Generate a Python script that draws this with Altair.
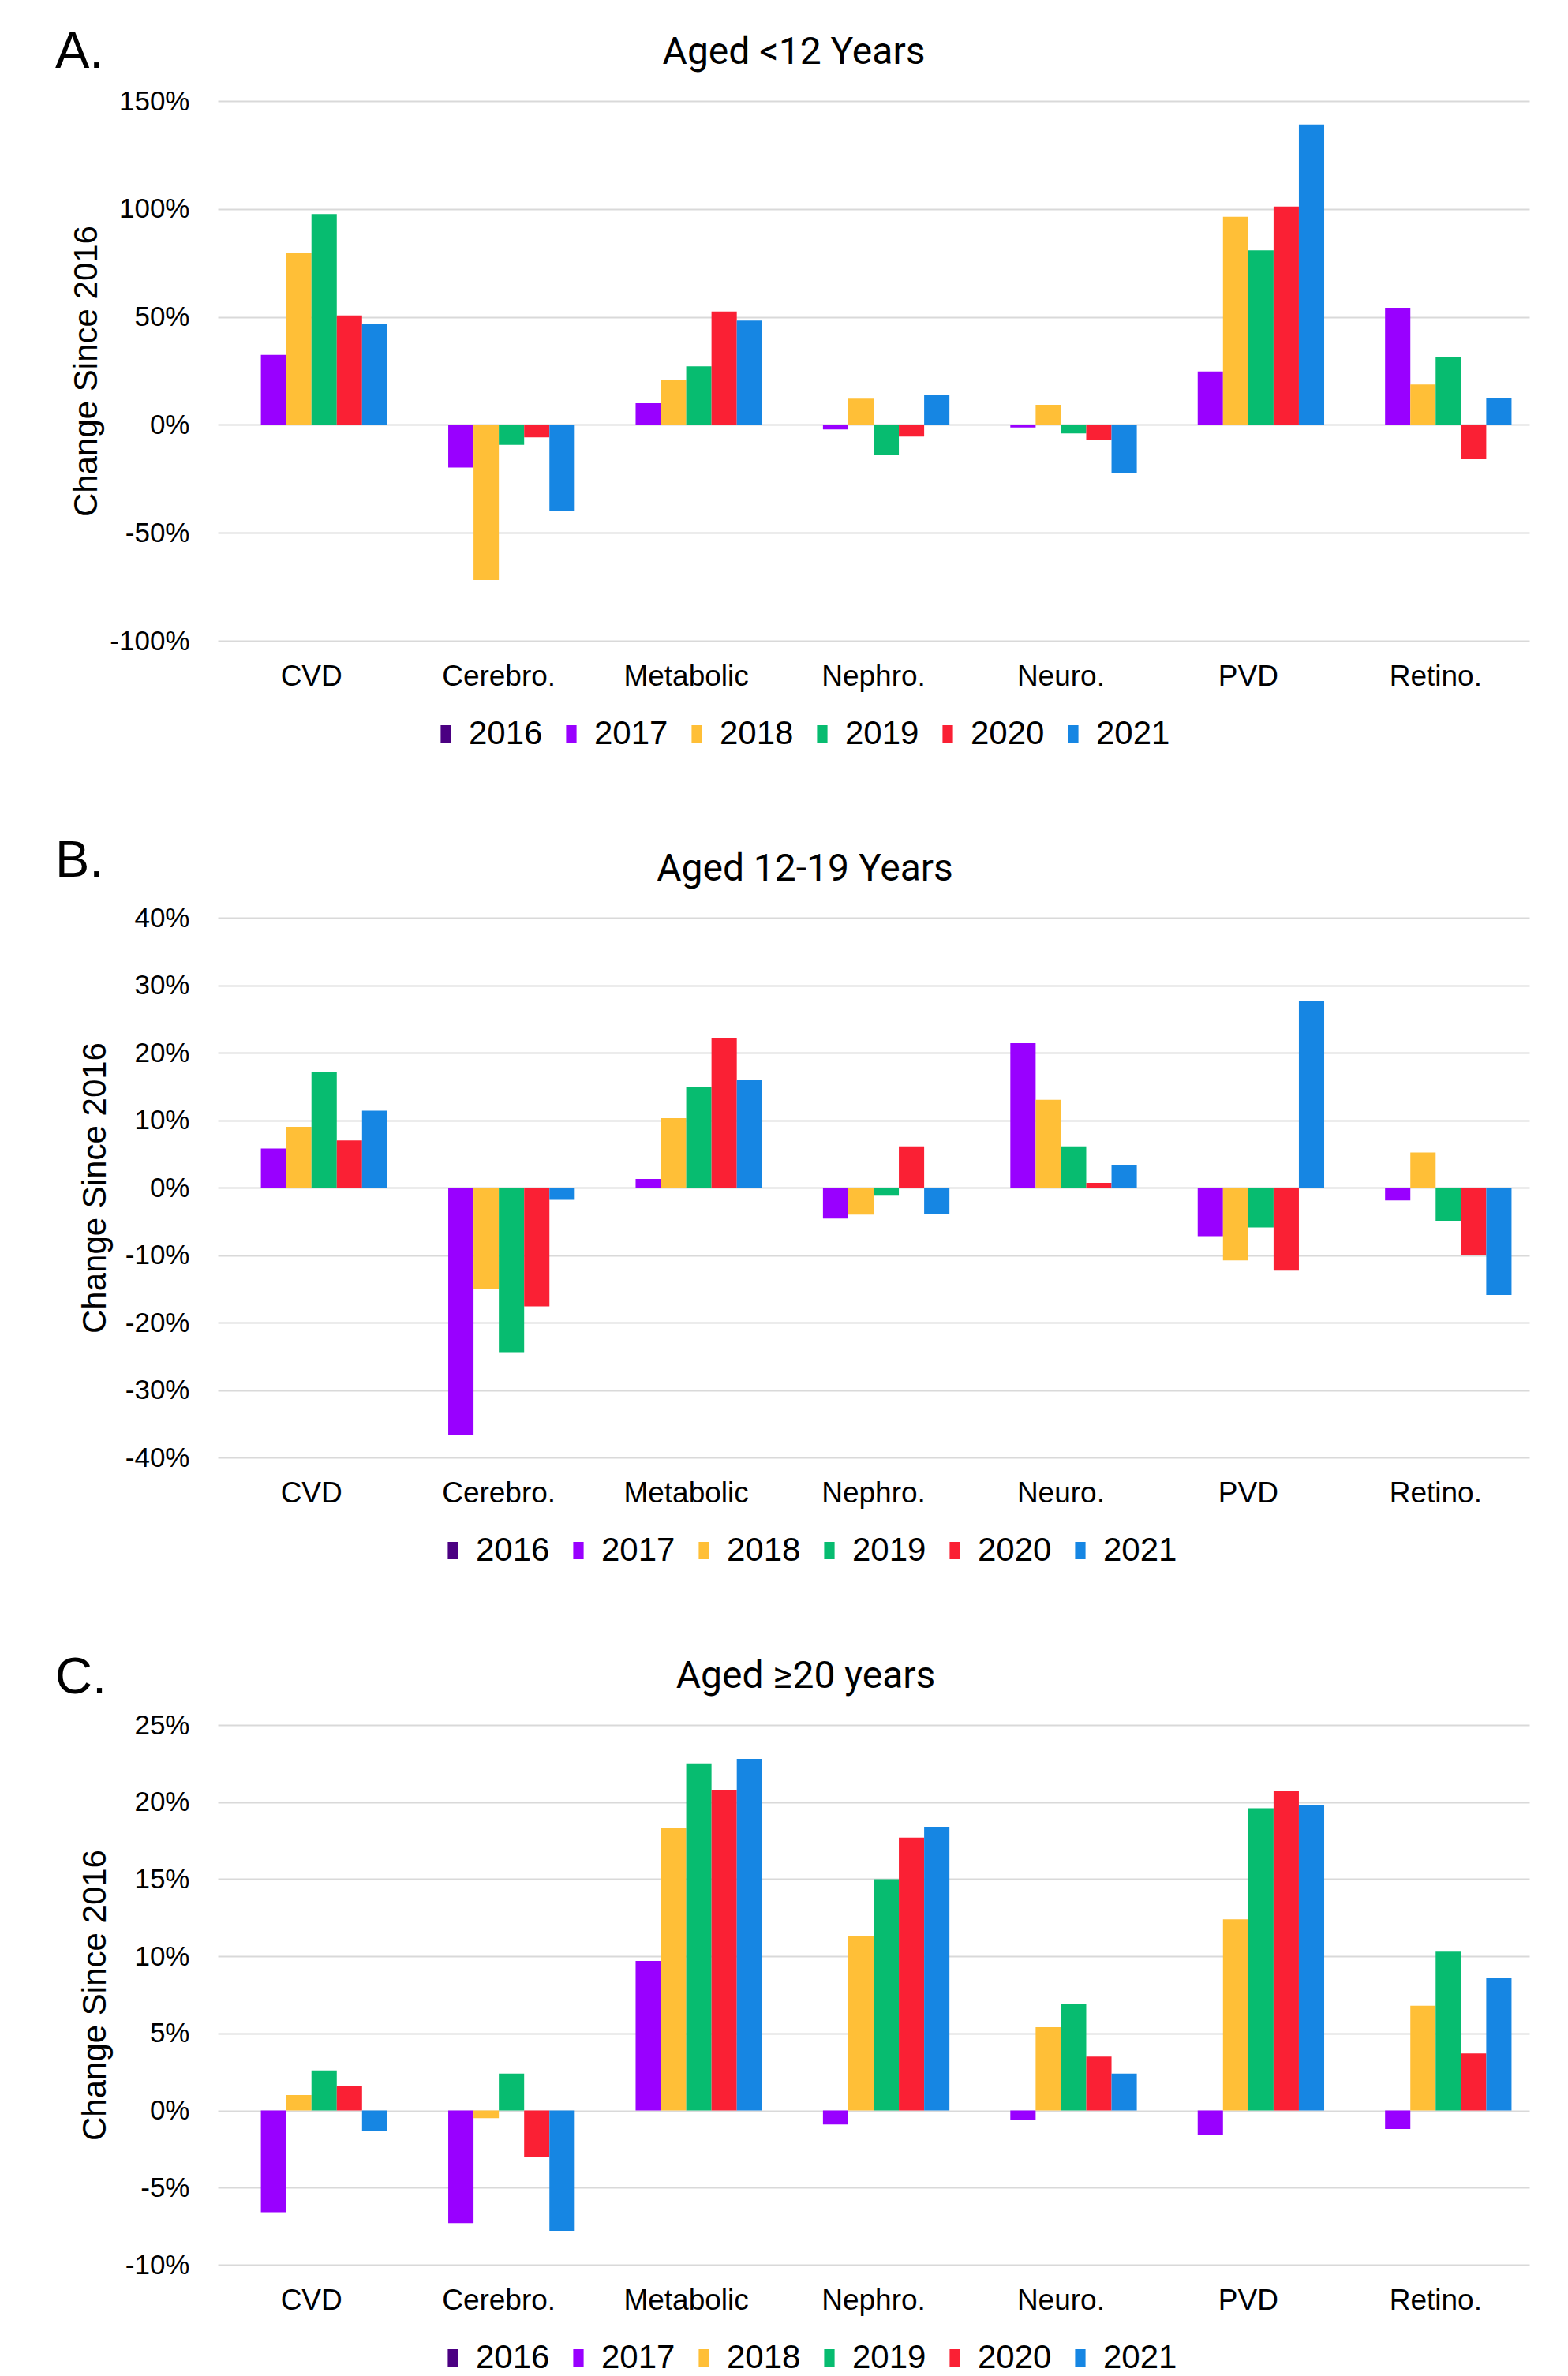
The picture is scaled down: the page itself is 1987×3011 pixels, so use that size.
import altair as alt
import pandas as pd

categories = ["CVD", "Cerebro.", "Metabolic", "Nephro.", "Neuro.", "PVD", "Retino."]
years = ["2016", "2017", "2018", "2019", "2020", "2021"]
year_colors = ["#4B0082", "#9900FF", "#FFBF37", "#07BC70", "#FA2034", "#1686E3"]

panel_letters = ["A.", "B.", "C."]
panel_titles = ["Aged <12 Years", "Aged 12-19 Years", "Aged \u226520 years"]

# Panel A: Aged <12 years (percent change since 2016)
a_2016 = [0, 0, 0, 0, 0, 0, 0]
a_2017 = [32.4, -19.8, 10.0, -2.1, -1.2, 24.7, 54.2]
a_2018 = [79.6, -71.9, 21.0, 12.1, 9.3, 96.4, 18.7]
a_2019 = [97.6, -9.3, 27.1, -14.0, -4.0, 80.8, 31.3]
a_2020 = [50.7, -5.8, 52.5, -5.4, -7.2, 101.1, -15.9]
a_2021 = [46.7, -40.1, 48.3, 13.8, -22.4, 139.1, 12.6]

# Panel B: Aged 12-19 years
b_2016 = [0, 0, 0, 0, 0, 0, 0]
b_2017 = [5.8, -36.6, 1.3, -4.6, 21.4, -7.2, -1.9]
b_2018 = [9.0, -15.0, 10.3, -4.0, 13.0, -10.8, 5.2]
b_2019 = [17.2, -24.4, 14.9, -1.2, 6.1, -5.9, -4.9]
b_2020 = [7.0, -17.6, 22.1, 6.1, 0.7, -12.3, -10.0]
b_2021 = [11.4, -1.8, 15.9, -3.9, 3.4, 27.7, -15.9]

# Panel C: Aged >=20 years
c_2016 = [0, 0, 0, 0, 0, 0, 0]
c_2017 = [-6.6, -7.3, 9.7, -0.9, -0.6, -1.6, -1.2]
c_2018 = [1.0, -0.5, 18.3, 11.3, 5.4, 12.4, 6.8]
c_2019 = [2.6, 2.4, 22.5, 15.0, 6.9, 19.6, 10.3]
c_2020 = [1.6, -3.0, 20.8, 17.7, 3.5, 20.7, 3.7]
c_2021 = [-1.3, -7.8, 22.8, 18.4, 2.4, 19.8, 8.6]

a_domain = [-100, 150]
a_ticks = [-100, -50, 0, 50, 100, 150]
b_domain = [-40, 40]
b_ticks = [-40, -30, -20, -10, 0, 10, 20, 30, 40]
c_domain = [-10, 25]
c_ticks = [-10, -5, 0, 5, 10, 15, 20, 25]

W = 1662
H = 684
LABEL_FONT = "Liberation Sans"
TITLE_FONT = "Roboto"


def make_df(series):
    rows = []
    for y, vals in zip(years, series):
        for c, v in zip(categories, vals):
            rows.append({"category": c, "year": y, "value": v})
    return pd.DataFrame(rows)


def panel(series, domain, ticks, letter, title, title_x, legend_x, letter_y, title_pad):
    df = make_df(series)
    bars = alt.Chart(df).mark_bar().encode(
        x=alt.X("category:N", sort=categories,
                scale=alt.Scale(paddingInner=0.19, paddingOuter=0.095),
                axis=alt.Axis(title=None, labelAngle=0, labelFontSize=37,
                              labelFont=LABEL_FONT, labelColor="#000000",
                              labelPadding=27, ticks=False, domain=False,
                              grid=False)),
        xOffset=alt.XOffset("year:N", sort=years,
                            scale=alt.Scale(paddingInner=0, paddingOuter=0)),
        y=alt.Y("value:Q",
                scale=alt.Scale(domain=domain, nice=False, zero=True),
                axis=alt.Axis(title="Change Since 2016", values=ticks,
                              labelExpr="datum.value + '%'",
                              labelFontSize=35, labelFont=LABEL_FONT,
                              labelColor="#000000", labelPadding=36,
                              titleFontSize=42, titleFont=LABEL_FONT,
                              titleFontWeight="normal", titleColor="#000000",
                              titlePadding=title_pad, ticks=False, domain=False,
                              grid=True, gridColor="#d9d9d9", gridWidth=2)),
        color=alt.Color("year:N", sort=years,
                        scale=alt.Scale(domain=years, range=year_colors),
                        legend=alt.Legend(title=None, orient="none",
                                          direction="horizontal",
                                          legendX=legend_x, legendY=781,
                                          symbolType="M-0.6,-1H0.6V1H-0.6Z",
                                          symbolSize=484, symbolStrokeWidth=0,
                                          labelFontSize=42, labelFont=LABEL_FONT,
                                          labelColor="#000000", labelOffset=8,
                                          columnPadding=15, padding=0)),
    )
    tdf = pd.DataFrame({"letter": [letter], "title": [title]})
    letter_mark = alt.Chart(tdf).mark_text(
        align="left", baseline="alphabetic", fontSize=65, font=LABEL_FONT,
        color="#000000"
    ).encode(x=alt.value(-206), y=alt.value(letter_y), text="letter:N")
    title_mark = alt.Chart(tdf).mark_text(
        align="center", baseline="alphabetic", fontSize=48, font=TITLE_FONT,
        color="#000000"
    ).encode(x=alt.value(title_x), y=alt.value(-47), text="title:N")
    return alt.layer(bars, letter_mark, title_mark).properties(width=W, height=H)


pa = panel([a_2016, a_2017, a_2018, a_2019, a_2020, a_2021], a_domain, a_ticks,
           panel_letters[0], panel_titles[0], 730, 268, -42, 7)
pb = panel([b_2016, b_2017, b_2018, b_2019, b_2020, b_2021], b_domain, b_ticks,
           panel_letters[1], panel_titles[1], 744, 277, -52, 16)
pc = panel([c_2016, c_2017, c_2018, c_2019, c_2020, c_2021], c_domain, c_ticks,
           panel_letters[2], panel_titles[2], 745, 277, -40, 16)

chart = alt.vconcat(
    pa, pb, pc, spacing=108,
    padding={"left": 62, "top": 26, "right": 10, "bottom": 0},
).resolve_scale(
    x="independent", y="independent", color="independent", xOffset="independent"
).configure_view(stroke="transparent", strokeWidth=0)

chart.save("out.html", embed_options={"renderer": "svg", "actions": False})
